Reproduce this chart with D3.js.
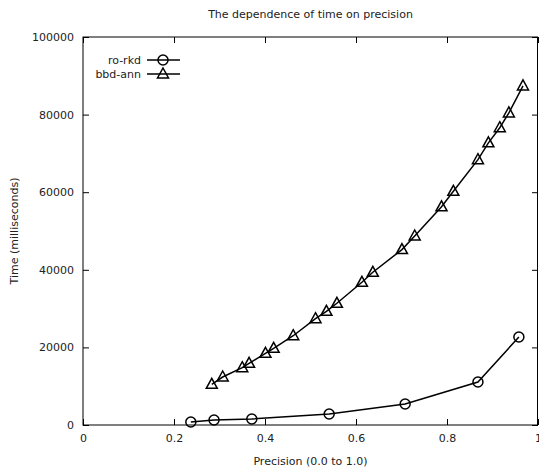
<!DOCTYPE html>
<html>
<head>
<meta charset="utf-8">
<script src="https://cdn.jsdelivr.net/npm/d3@7"></script>
<style>
  body { margin: 0; background: #fff; }
  text { font-family: "DejaVu Sans", sans-serif; font-size: 11px; fill: #222; }
</style>
</head>
<body>
<div id="graph"></div>
<script>
// données
var roRkdPrecision = [0.237, 0.288, 0.371, 0.541, 0.708, 0.868, 0.958];
var roRkdTime = [780, 1290, 1550, 2840, 5410, 11080, 22680];
var bbdAnnPrecision = [0.283, 0.307, 0.350, 0.365, 0.401, 0.419, 0.462, 0.511, 0.535, 0.558,
    0.613, 0.637, 0.701, 0.729, 0.788, 0.814, 0.868, 0.891, 0.916, 0.936, 0.967];
var bbdAnnTime = [10490, 12370, 14770, 15900, 18480, 19770, 23010, 27400, 29300, 31370,
    36780, 39360, 45210, 48710, 56240, 60230, 68380, 72730, 76620, 80440, 87400];
var xTicks = [0, 0.2, 0.4, 0.6, 0.8, 1];
var yTicks = [0, 20000, 40000, 60000, 80000, 100000];
var seriesNames = ["ro-rkd", "bbd-ann"];

var totalWidth = 539, totalHeight = 470,
    margin = {top: 37, right: 1, bottom: 45, left: 83},
    width = totalWidth - margin.left - margin.right,
    height = totalHeight - margin.top - margin.bottom;

var x = d3.scaleLinear().domain([0, 1]).range([0, width]),
    y = d3.scaleLinear().domain([0, 100000]).range([height, 0]);

var root = d3.select("#graph").append("svg")
    .attr("width", totalWidth)
    .attr("height", totalHeight);
var svg = root.append("g")
    .attr("transform", "translate(" + margin.left + "," + margin.top + ")");

// titre
root.append("text")
    .attr("x", margin.left + width / 2)
    .attr("y", 18)
    .attr("text-anchor", "middle")
    .text("The dependence of time on precision");

// axes, ticks vers l'intérieur comme gnuplot
var fmt = function(d) { return d === 0 || d === 1 ? String(d) : d3.format(".1f")(d); };
var bottom = svg.append("g")
    .attr("transform", "translate(0," + height + ")")
    .call(d3.axisBottom(x).tickValues(xTicks).tickFormat(fmt).tickSizeInner(-6).tickSizeOuter(0).tickPadding(9));
var top = svg.append("g")
    .call(d3.axisTop(x).tickValues(xTicks).tickFormat("").tickSizeInner(-6).tickSizeOuter(0));
var left = svg.append("g")
    .call(d3.axisLeft(y).tickValues(yTicks).tickFormat(d3.format("d")).tickSizeInner(-6).tickSizeOuter(0).tickPadding(9));
var right = svg.append("g")
    .attr("transform", "translate(" + width + ",0)")
    .call(d3.axisRight(y).tickValues(yTicks).tickFormat("").tickSizeInner(-6).tickSizeOuter(0));
svg.selectAll(".domain").remove();
svg.selectAll(".tick text").attr("font-family", "DejaVu Sans, sans-serif").attr("font-size", 11).attr("fill", "#222");
svg.selectAll(".tick line").attr("stroke", "#000");

// cadre
svg.append("rect")
    .attr("x", 0).attr("y", 0)
    .attr("width", width - 0.5).attr("height", height)
    .attr("fill", "none")
    .attr("stroke", "#000")
    .attr("stroke-width", 1);

// titres des axes
root.append("text")
    .attr("x", margin.left + width / 2)
    .attr("y", 465)
    .attr("text-anchor", "middle")
    .text("Precision (0.0 to 1.0)");
root.append("text")
    .attr("transform", "translate(18," + (margin.top + height / 2) + ") rotate(-90)")
    .attr("text-anchor", "middle")
    .text("Time (milliseconds)");

// symboles
var circle = "M5,0A5,5 0 1,1 -5,0A5,5 0 1,1 5,0Z";
var triangle = "M0,-6L5.5,4L-5.5,4Z";

var series = [
    {name: seriesNames[0], px: roRkdPrecision, ty: roRkdTime, symbol: circle},
    {name: seriesNames[1], px: bbdAnnPrecision, ty: bbdAnnTime, symbol: triangle}
];

var ligne = d3.line()
    .x(function(d) { return x(d[0]); })
    .y(function(d) { return y(d[1]); });

series.forEach(function(s, i) {
    var pts = s.px.map(function(p, j) { return [p, s.ty[j]]; });
    svg.append("path")
        .datum(pts)
        .attr("fill", "none")
        .attr("stroke", "#000")
        .attr("stroke-width", 1.5)
        .attr("d", ligne);
    svg.selectAll(".pt" + i)
        .data(pts)
        .enter().append("path")
        .attr("class", "pt" + i)
        .attr("transform", function(d) { return "translate(" + x(d[0]) + "," + y(d[1]) + ")"; })
        .attr("d", s.symbol)
        .attr("fill", "none")
        .attr("stroke", "#000")
        .attr("stroke-width", 1.5);

    // légende
    var ly = 23 + i * 14;
    svg.append("text")
        .attr("x", 58)
        .attr("y", ly)
        .attr("dy", "0.35em")
        .attr("text-anchor", "end")
        .text(s.name);
    svg.append("line")
        .attr("x1", 64).attr("x2", 97)
        .attr("y1", ly).attr("y2", ly)
        .attr("stroke", "#000")
        .attr("stroke-width", 1.5);
    svg.append("path")
        .attr("transform", "translate(80," + ly + ")")
        .attr("d", s.symbol)
        .attr("fill", "none")
        .attr("stroke", "#000")
        .attr("stroke-width", 1.5);
});
</script>
</body>
</html>
